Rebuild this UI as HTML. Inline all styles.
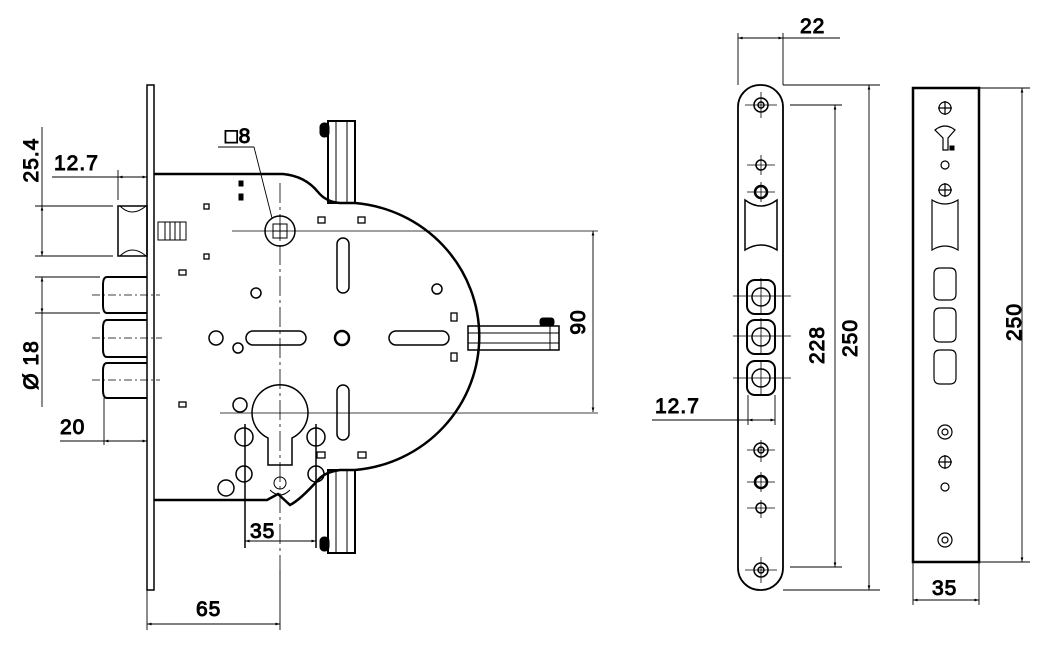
<!DOCTYPE html>
<html><head><meta charset="utf-8"><style>
html,body{margin:0;padding:0;background:#fff;width:1049px;height:654px;overflow:hidden}
svg text{font-family:"Liberation Sans",sans-serif;font-size:21px;fill:#000;letter-spacing:1px}
</style></head><body>
<svg width="1049" height="654" viewBox="0 0 1049 654" xmlns="http://www.w3.org/2000/svg" fill="none" stroke="#000" stroke-width="1">
<defs>
<marker id="a" viewBox="0 0 10 10" refX="10" refY="5" markerWidth="7" markerHeight="5" orient="auto-start-reverse"><path d="M0,2 L10,5 L0,8z" fill="#000" stroke="none"/></marker>
</defs>
<rect x="147" y="85" width="7" height="505" stroke-width="1.5"/>
<path d="M154,174 L283,174 Q305,176 318,192 Q326,202 340,203 L355,203 A136,134 0 0 1 355,470 L340,470 Q325,472 318,480 Q300,500 290,505 L278,494 L267,500 L154,500" stroke-width="2.5"/>
<rect x="328" y="121" width="27" height="82" stroke-width="2"/>
<line x1="336" y1="121" x2="336" y2="203"/><line x1="347" y1="121" x2="347" y2="203"/>
<rect x="320" y="123" width="9" height="14" rx="4" fill="#000"/>
<rect x="328" y="470" width="27" height="83" stroke-width="2"/>
<line x1="336" y1="470" x2="336" y2="553"/><line x1="347" y1="470" x2="347" y2="553"/>
<rect x="320" y="537" width="9" height="14" rx="4" fill="#000"/>
<rect x="468" y="326" width="91" height="24" stroke-width="1.5"/>
<line x1="468" y1="333" x2="559" y2="333"/><line x1="468" y1="343" x2="559" y2="343"/>
<line x1="550" y1="326" x2="550" y2="350"/>
<rect x="540" y="318" width="14" height="8" rx="3" fill="#000"/>
<rect x="118" y="206" width="29" height="50" stroke-width="1.5"/>
<path d="M120,206 Q132,218 146,206 M120,256 Q132,244 146,256"/>
<rect x="158" y="222" width="28" height="18"/>
<path d="M165,222v18M170,222v18M175,222v18M180,222v18"/>
<g stroke-width="2"><path d="M147,277 H107 Q103,277 103,285 V305 Q103,313 107,313 H147"/>
<path d="M147,320 H107 Q103,320 103,328 V349 Q103,357 107,357 H147"/>
<path d="M147,363 H107 Q103,363 103,371 V390 Q103,398 107,398 H147"/></g>
<g stroke-dasharray="8,3,2,3" stroke-width="0.8"><line x1="92" y1="295" x2="160" y2="295"/><line x1="92" y1="338" x2="162" y2="338"/><line x1="92" y1="380" x2="160" y2="380"/></g>
<g stroke-width="0.8"><line x1="280" y1="183" x2="280" y2="570" stroke-dasharray="20,4,3,4"/>
<line x1="232" y1="231" x2="598" y2="231"/><line x1="220" y1="413" x2="598" y2="413"/></g>
<circle cx="280" cy="231" r="15" stroke-width="1.5"/><rect x="273" y="224" width="14" height="14"/><path d="M280,224v14M273,231h14"/>
<path d="M268,438 A28,28 0 1 1 292,438 L292,465 L268,465 Z" stroke-width="1.5"/>
<circle cx="280" cy="483" r="6"/><path d="M270,490 Q280,500 290,490"/>
<g stroke-width="1.5">
<circle cx="256" cy="293" r="5"/><circle cx="216" cy="338" r="7"/><circle cx="238" cy="348" r="5"/>
<circle cx="342" cy="338" r="7" stroke-width="2.5"/><circle cx="437" cy="289" r="5"/>
<circle cx="240" cy="405" r="7"/><circle cx="244" cy="437" r="9"/><circle cx="316" cy="437" r="9"/>
<circle cx="244" cy="474" r="8"/><circle cx="316" cy="474" r="8"/><circle cx="226" cy="488" r="8"/>
<rect x="246" y="331" width="60" height="14" rx="7"/><rect x="389" y="331" width="60" height="14" rx="7"/>
<rect x="337" y="238" width="12" height="55" rx="6"/><rect x="337" y="385" width="12" height="55" rx="6"/>
</g>
<g stroke-width="1.3">
<rect x="204" y="204" width="5" height="5"/><rect x="204" y="254" width="5" height="5"/><rect x="179" y="270" width="7" height="5"/><rect x="179" y="402" width="7" height="5"/>
<rect x="318" y="217" width="7" height="6"/><rect x="358" y="217" width="7" height="6"/>
<rect x="451" y="313" width="6" height="8"/><rect x="451" y="353" width="6" height="8"/>
<rect x="317" y="452" width="8" height="6"/><rect x="358" y="452" width="8" height="6"/>
</g>
<rect x="239" y="181" width="4" height="5" fill="#000"/><rect x="239" y="194" width="4" height="6" fill="#000"/>
<g stroke-width="0.9">
<line x1="35" y1="206" x2="113" y2="206"/><line x1="35" y1="256" x2="113" y2="256"/>
<line x1="42" y1="127" x2="42" y2="206"/><line x1="42" y1="206" x2="42" y2="256" marker-start="url(#a)" marker-end="url(#a)"/>
<line x1="52" y1="177" x2="118" y2="177"/><line x1="118" y1="177" x2="147" y2="177" marker-start="url(#a)" marker-end="url(#a)"/>
<line x1="118" y1="170" x2="118" y2="200"/>
<line x1="35" y1="277" x2="100" y2="277"/><line x1="35" y1="313" x2="100" y2="313"/>
<line x1="42" y1="277" x2="42" y2="313" marker-start="url(#a)" marker-end="url(#a)"/><line x1="42" y1="313" x2="42" y2="407"/>
<line x1="60" y1="441" x2="104" y2="441"/><line x1="104" y1="441" x2="147" y2="441" marker-start="url(#a)" marker-end="url(#a)"/>
<line x1="104" y1="398" x2="104" y2="445"/>
<line x1="147" y1="590" x2="147" y2="630"/><line x1="280" y1="570" x2="280" y2="630"/>
<line x1="147" y1="624" x2="280" y2="624" marker-start="url(#a)" marker-end="url(#a)"/>
<line x1="245" y1="541" x2="316" y2="541" marker-start="url(#a)" marker-end="url(#a)"/>
<line x1="593" y1="231" x2="593" y2="412" marker-start="url(#a)" marker-end="url(#a)"/>
<line x1="218" y1="147" x2="254" y2="147"/><line x1="254" y1="147" x2="272" y2="218"/>
</g>
<line x1="245" y1="424" x2="245" y2="548" stroke-width="1.5"/><line x1="316" y1="424" x2="316" y2="548" stroke-width="1.5"/>
<text x="54" y="170">12.7</text>
<text transform="translate(38,160) rotate(-90)" text-anchor="middle">25.4</text>
<text transform="translate(38,365) rotate(-90)" text-anchor="middle">Ø 18</text>
<text x="60" y="434">20</text>
<text x="196" y="616">65</text>
<text x="250" y="538" font-size="19">35</text>
<text transform="translate(585,322) rotate(-90)" text-anchor="middle">90</text>
<text x="225" y="143" font-size="17">□8</text>
<rect x="738" y="85" width="45" height="505" rx="22" stroke-width="1.8"/>
<g stroke-width="0.8">
<path d="M745,105h32M761,92v26M745,570h32M761,557v26M747,165h28M761,155v20M747,192h28M761,182v20M747,450h28M761,440v22M747,482h28M761,472v20M747,508h28M761,500v18"/>
<path d="M733,296h58M761,278v36M733,336h58M761,318v36M733,378h58M761,360v36"/>
</g>
<g stroke-width="1.5">
<circle cx="761" cy="105" r="7"/><circle cx="761" cy="105" r="3"/>
<circle cx="761" cy="570" r="7"/><circle cx="761" cy="570" r="3"/>
<circle cx="761" cy="165" r="5"/><circle cx="761" cy="192" r="6" stroke-width="2.5"/>
<circle cx="761" cy="450" r="7"/><circle cx="761" cy="450" r="3"/>
<circle cx="761" cy="482" r="6" stroke-width="2.5"/><circle cx="761" cy="508" r="5"/>
<path d="M745,200 Q761,212 777,200 V250 Q761,240 745,250 Z"/>
<rect x="747" y="280" width="28" height="34" rx="8" stroke-width="2"/><circle cx="761" cy="297" r="9"/>
<rect x="747" y="320" width="28" height="34" rx="8" stroke-width="2"/><circle cx="761" cy="337" r="9"/>
<rect x="747" y="361" width="28" height="34" rx="8" stroke-width="2"/><circle cx="761" cy="378" r="9"/>
</g>
<g stroke-width="0.9">
<line x1="738" y1="33" x2="738" y2="85"/><line x1="783" y1="33" x2="783" y2="85"/>
<line x1="738" y1="38" x2="783" y2="38" marker-start="url(#a)" marker-end="url(#a)"/><line x1="783" y1="38" x2="840" y2="38"/>
<line x1="783" y1="85" x2="880" y2="85"/><line x1="783" y1="590" x2="880" y2="590"/>
<line x1="869" y1="85" x2="869" y2="590" marker-start="url(#a)" marker-end="url(#a)"/>
<line x1="790" y1="105" x2="842" y2="105"/><line x1="790" y1="567" x2="842" y2="567"/>
<line x1="835" y1="105" x2="835" y2="567" marker-start="url(#a)" marker-end="url(#a)"/>
<line x1="652" y1="420" x2="748" y2="420"/><line x1="748" y1="420" x2="775" y2="420" marker-start="url(#a)" marker-end="url(#a)"/>
<line x1="748" y1="395" x2="748" y2="425"/><line x1="775" y1="395" x2="775" y2="425"/>
</g>
<text x="800" y="33">22</text>
<text transform="translate(857,338) rotate(-90)" text-anchor="middle">250</text>
<text transform="translate(824,345) rotate(-90)" text-anchor="middle">228</text>
<text x="655" y="413">12.7</text>
<rect x="913" y="88" width="66" height="474" stroke-width="2.5"/>
<g stroke-width="1.2">
<circle cx="945" cy="108" r="6"/><path d="M938,108h14M945,101v14"/>
<circle cx="945" cy="165" r="4"/>
<circle cx="945" cy="190" r="6"/><path d="M938,190h14M945,183v14"/>
<path d="M932,200 Q945,208 958,200 V250 Q945,242 932,250 Z"/>
<path d="M940,268h10q6,0 6,6v20q0,6 -6,6h-10q-6,0 -6,-6v-20q0,-6 6,-6z"/>
<path d="M940,308h10q6,0 6,6v22q0,6 -6,6h-10q-6,0 -6,-6v-22q0,-6 6,-6z"/>
<path d="M940,350h10q6,0 6,6v22q0,6 -6,6h-10q-6,0 -6,-6v-22q0,-6 6,-6z"/>
<circle cx="945" cy="432" r="7"/><circle cx="945" cy="432" r="3"/>
<circle cx="945" cy="462" r="6"/><path d="M938,462h14M945,455v14"/>
<circle cx="945" cy="487" r="4"/>
<circle cx="945" cy="540" r="7"/><circle cx="945" cy="540" r="3"/>
<path d="M935,130 Q945,122 955,130 L948,138 V150 H943 V138 Z"/>
</g>
<rect x="950" y="146" width="4" height="4" fill="#000"/>
<g stroke-width="0.9">
<line x1="979" y1="88" x2="1030" y2="88"/><line x1="979" y1="562" x2="1030" y2="562"/>
<line x1="1022" y1="88" x2="1022" y2="562" marker-start="url(#a)" marker-end="url(#a)"/>
<line x1="913" y1="562" x2="913" y2="605"/><line x1="979" y1="562" x2="979" y2="605"/>
<line x1="913" y1="600" x2="979" y2="600" marker-start="url(#a)" marker-end="url(#a)"/>
</g>
<text transform="translate(1021,322) rotate(-90)" text-anchor="middle">250</text>
<text x="932" y="595">35</text>
</svg>
</body></html>
